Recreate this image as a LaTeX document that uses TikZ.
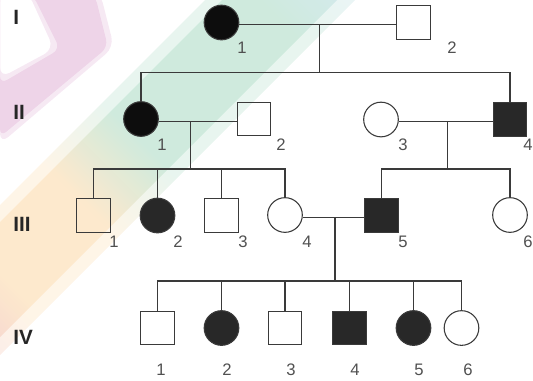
\documentclass[tikz,border=0pt]{standalone}
\usepackage{fontspec}
\setmainfont{Liberation Sans}
\begin{document}
\definecolor{bandblue}{RGB}{212,232,246}
\definecolor{bandgreen}{RGB}{204,233,219}
\definecolor{bandorange}{RGB}{253,232,202}
\definecolor{bandred}{RGB}{244,204,208}
\definecolor{chevron}{RGB}{238,212,232}
\definecolor{ink}{RGB}{58,58,58}
\definecolor{affected}{RGB}{40,40,40}
\definecolor{labelgray}{RGB}{80,80,80}
\pgfdeclarehorizontalshading{rainbowband}{100bp}{color(0bp)=(bandred); color(10bp)=(bandred); color(22bp)=(bandorange); color(38bp)=(bandorange); color(50bp)=(bandgreen); color(76bp)=(bandgreen); color(92bp)=(bandblue); color(100bp)=(bandblue)}
\begin{tikzpicture}[x=0.75pt,y=-0.75pt,
  line/.style={draw=ink, line width=0.85pt},
  male/.style={draw=ink, line width=0.8pt, minimum size=25pt, inner sep=0pt, rectangle},
  female/.style={draw=ink, line width=0.8pt, minimum size=26pt, inner sep=0pt, circle},
  sick/.style={fill=affected},
  num/.style={text=labelgray, font=\fontsize{12.5}{14}\selectfont, inner sep=0pt},
  gen/.style={text=black!85, font=\bfseries\fontsize{15.5}{17}\selectfont, anchor=west, inner sep=0pt}]
\useasboundingbox (0,0) rectangle (533,380);
% faint background decoration
\begin{scope}
\clip (0,0) rectangle (533,380);
\fill[chevron, opacity=0.5, rounded corners=8pt, even odd rule]
  (0,-8) -- (100,-8) -- (114,47) -- (0,144) -- cycle
  (0,-8) -- (28,-8) -- (54,49) -- (0,78) -- cycle;
\fill[chevron, rounded corners=6pt, even odd rule]
  (0,-5) -- (95,-5) -- (108,47) -- (0,137) -- cycle
  (0,-5) -- (33,-5) -- (60,49) -- (0,84) -- cycle;
\shade[shading=rainbowband, shading angle=45, opacity=0.45]
  (210,-5) -- (360,-5) -- (-5,360) -- (-5,210) -- cycle;
\shade[shading=rainbowband, shading angle=45, opacity=0.9]
  (227,-5) -- (342,-5) -- (-5,342) -- (-5,227) -- cycle;
\end{scope}

% generation labels
\node[gen] (gI)   at (13,17)  {I};
\node[gen] (gII)  at (13,112) {II};
\node[gen] (gIII) at (13,224) {III};
\node[gen] (gIV)  at (13,337) {IV};

% generation I
\node[female, fill=black!95] (i1) at (221.5,22.5) {};
\node[male] (i2) at (413.5,22.5) {};
\node[num] at (242,48) {1};
\node[num] at (452,48) {2};

% generation II
\node[female, fill=black!95] (ii1) at (141,119) {};
\node[male] (ii2) at (254,119) {};
\node[female] (ii3) at (381,119.5) {};
\node[male, sick] (ii4) at (510,119.5) {};
\node[num] at (162,145) {1};
\node[num] at (281,145) {2};
\node[num] at (403,145) {3};
\node[num] at (528,145) {4};

% generation III
\node[male] (iii1) at (93.5,215.5) {};
\node[female, sick] (iii2) at (157.5,215.5) {};
\node[male] (iii3) at (221.5,215.5) {};
\node[female] (iii4) at (285,215) {};
\node[male, sick] (iii5) at (381.5,215.5) {};
\node[female] (iii6) at (510,215) {};
\node[num] at (114,242) {1};
\node[num] at (178,242) {2};
\node[num] at (243,242) {3};
\node[num] at (307,242) {4};
\node[num] at (403,242) {5};
\node[num] at (528,242) {6};

% generation IV
\node[male] (iv1) at (157.5,328) {};
\node[female, sick] (iv2) at (221.5,328) {};
\node[male] (iv3) at (285,328) {};
\node[male, sick] (iv4) at (349.5,328) {};
\node[female, sick] (iv5) at (413.5,328) {};
\node[female] (iv6) at (461.5,328) {};
\node[num] at (161,370) {1};
\node[num] at (227,370) {2};
\node[num] at (291,370) {3};
\node[num] at (355,370) {4};
\node[num] at (419,370) {5};
\node[num] at (468,370) {6};

% marriage and descent lines
\coordinate (mI) at (319.3,24.3);
\coordinate (sI) at (319.3,72.7);
\draw[line] (i1.east |- mI) -- (i2.west |- mI);
\draw[line] (mI) -- (sI);
\draw[line] (ii1.north) -- (ii1.north |- sI) -- (ii4.north |- sI) -- (ii4.north);

\coordinate (mIIa) at (190.7,121.7);
\coordinate (sIIa) at (190.7,169);
\draw[line] (ii1.east |- mIIa) -- (ii2.west |- mIIa);
\draw[line] (mIIa) -- (sIIa);
\draw[line] (iii1.north) -- (iii1.north |- sIIa) -- (iii4.north |- sIIa) -- (iii4.north);
\draw[line] (iii2.north) -- (iii2.north |- sIIa);
\draw[line] (iii3.north) -- (iii3.north |- sIIa);

\coordinate (mIIb) at (447.7,121.7);
\coordinate (sIIb) at (447.7,169);
\draw[line] (ii3.east |- mIIb) -- (ii4.west |- mIIb);
\draw[line] (mIIb) -- (sIIb);
\draw[line] (iii5.north) -- (iii5.north |- sIIb) -- (iii6.north |- sIIb) -- (iii6.north);

\coordinate (mIII) at (335,217.7);
\coordinate (sIII) at (335,281);
\draw[line] (iii4.east |- mIII) -- (iii5.west |- mIII);
\draw[line] (mIII) -- (sIII);
\draw[line] (iv1.north) -- (iv1.north |- sIII) -- (iv6.north |- sIII) -- (iv6.north);
\draw[line] (iv2.north) -- (iv2.north |- sIII);
\draw[line] (iv3.north) -- (iv3.north |- sIII);
\draw[line] (iv4.north) -- (iv4.north |- sIII);
\draw[line] (iv5.north) -- (iv5.north |- sIII);
\end{tikzpicture}
\end{document}
